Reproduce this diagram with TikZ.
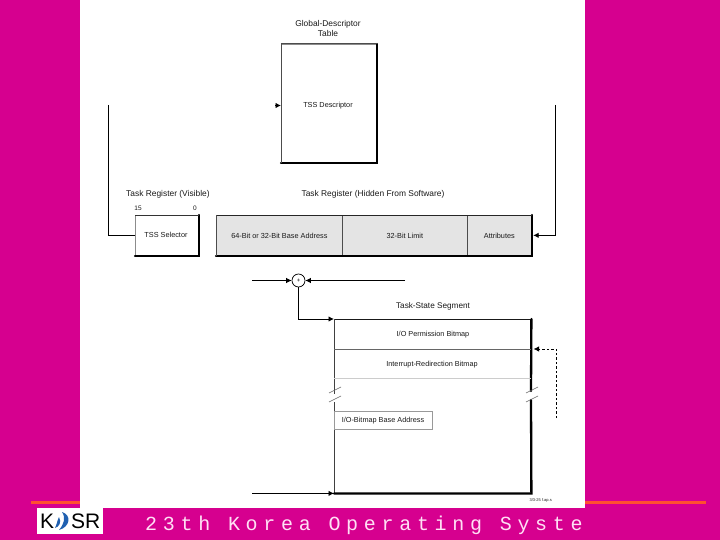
\documentclass[tikz,border=0pt]{standalone}
\usepackage{fontspec}
\setmainfont{Liberation Sans}
\newfontfamily\footfont[LetterSpace=28.5]{Liberation Mono}
\usetikzlibrary{arrows.meta}
\definecolor{bgpink}{HTML}{D6008F}
\definecolor{linered}{HTML}{FF5030}
\definecolor{footpink}{HTML}{FFE0F5}
\definecolor{cellgray}{HTML}{E4E4E4}
\definecolor{logoblue}{HTML}{2060B0}
\tikzset{
  x=1pt,y=-1pt,
  lbl/.style={font=\fontsize{8.4}{10}\selectfont,inner sep=0pt,align=center,text=black!90},
  inlbl/.style={font=\fontsize{7.3}{9}\selectfont,inner sep=0pt,align=center,text=black!90},
  wire/.style={line width=0.9pt,-{Latex[length=5.5pt,width=5.5pt]}},
  plainwire/.style={line width=0.9pt},
  thinbox/.style={draw=black!45,line width=0.7pt},
  shadowline/.style={line width=2.3pt,line cap=round},
}
\begin{document}
\begin{tikzpicture}
\useasboundingbox (0,0) rectangle (720,540);
\fill[bgpink] (0,0) rectangle (720,540);
\fill[linered] (31,500.5) rectangle (706,504);
\fill[white] (80,0) rectangle (585,508);
\fill[white] (37,508) rectangle (103,534);

% GDT
\node[lbl] (gdtlabel) at (328,28.5) {Global-Descriptor\\Table};
\node[thinbox,minimum width=95pt,minimum height=118pt,inner sep=0pt,anchor=north west] (gdt) at (281,44) {};
\draw[shadowline] (gdt.north east) -- (gdt.south east) -- (gdt.south west);
\draw[line width=1pt,black!70] (gdt.north west) -- (gdt.north east);
\draw[line width=0.9pt,black!70] (gdt.north west) -- (gdt.south west);
\node[inlbl] (tssd) at (328,105.5) {TSS Descriptor};
\coordinate (gdtin) at (gdt.west |- tssd);
\coordinate (gdtstart) at (275,105.5);
\draw[wire] (gdtstart) -- (gdtin);

% Registers
\node[lbl,anchor=west] (vislabel) at (126,194) {Task Register (Visible)};
\node[lbl] (hidlabel) at (373,194) {Task Register (Hidden From Software)};
\node[inlbl,font=\fontsize{6.5}{7}\selectfont] (b15) at (138,208) {15};
\node[inlbl,font=\fontsize{6.5}{7}\selectfont] (b0) at (195,208) {0};

\node[thinbox,fill=white,minimum width=63pt,minimum height=40pt,inner sep=0pt,anchor=north west] (sel) at (135,215) {};
\draw[shadowline] (sel.north east) -- (sel.south east) -- (sel.south west);
\draw[line width=0.9pt,black!80] (sel.north west) -- (sel.north east);
\node[inlbl] (seltext) at (166,234.5) {TSS Selector};

\node[draw=black!70,fill=cellgray,line width=0.7pt,minimum width=126pt,minimum height=40pt,inner sep=0pt,anchor=north west] (base) at (216,215) {};
\node[draw=black!70,fill=cellgray,line width=0.7pt,minimum width=125pt,minimum height=40pt,inner sep=0pt,anchor=north west] (limit) at (342,215) {};
\node[draw=black!70,fill=cellgray,line width=0.7pt,minimum width=64pt,minimum height=40pt,inner sep=0pt,anchor=north west] (attr) at (467,215) {};
\draw[shadowline] (attr.north east) -- (attr.south east) -- (base.south west);
\draw[line width=0.9pt,black!85] (base.north west) -- (attr.north east);
\draw[line width=0.9pt,black!70] (base.north west) -- (base.south west);
\node[inlbl] at ([yshift=-0.5pt]base.center) {64-Bit or 32-Bit Base Address};
\node[inlbl] at ([yshift=-0.5pt]limit.center) {32-Bit Limit};
\node[inlbl] at ([yshift=-0.5pt]attr.center) {Attributes};

\coordinate (ltop) at (108.5,105);
\coordinate (rtop) at (555.5,105);
\draw[plainwire] (ltop) -- (ltop |- sel.west) -- (sel.west);
\draw[wire] (rtop) -- (rtop |- attr.east) -- ([xshift=1.5pt]attr.east);

% Adder
\node[draw,circle,line width=0.7pt,minimum size=13pt,inner sep=0pt,font=\fontsize{6}{6}\selectfont] (add) at (298.5,280.5) {+};
\coordinate (addl) at (252,280.5);
\coordinate (addr) at (405,280.5);
\draw[wire] (addl) -- (add.west);
\draw[wire] (addr) -- (add.east);

% TSS
\node[lbl,font=\fontsize{8.2}{10}\selectfont] (tsslabel) at (433,306.5) {Task-State Segment};
\node[inner sep=0pt,minimum width=197pt,minimum height=174pt,anchor=north west] (tss) at (334,319) {};
\draw[line width=1pt,black!90] (tss.north west) -- (tss.north east);
\draw[line width=0.9pt,black!75] (tss.north west) -- (334,394);
\draw[line width=0.9pt,black!75] (334,402) -- (tss.south west);
\draw[shadowline] (tss.north east) -- (531,391);
\draw[shadowline] (531,400) -- (tss.south east) -- (tss.south west);
\coordinate (mid1) at (334,349);
\coordinate (mid1r) at (531,349);
\coordinate (mid2) at (334,378);
\coordinate (mid2r) at (531,378);
\draw[line width=0.7pt,black!60] (mid1) -- (mid1r);
\draw[line width=0.7pt,black!20] (mid2) -- (mid2r);
\node[inlbl] at (433,334.5) {I/O Permission Bitmap};
\node[inlbl] at (432,364.5) {Interrupt-Redirection Bitmap};
\node[draw=black!40,line width=0.6pt,minimum width=98pt,minimum height=18pt,inner sep=0pt,anchor=north west] (iob) at (334,411) {};
\node[inlbl] at (383,421) {I/O-Bitmap Base Address};

% break marks
\draw[line width=0.6pt,black!60] (329,393) -- (341,387);
\draw[line width=0.6pt,black!60] (329,402) -- (341,396);
\draw[line width=0.6pt,black!60] (526,393) -- (538,387);
\draw[line width=0.6pt,black!60] (526,402) -- (538,396);

\draw[wire] (add.south) -- (add.south |- tss.north west) -- (tss.north west);
\coordinate (tssb) at (252,493);
\draw[wire] (tssb |- tss.south west) -- (tss.south west);
\coordinate (dashs) at (556.5,418);
\draw[wire,dash pattern=on 2.5pt off 2pt] (dashs) -- (dashs |- mid1r) -- ([xshift=2.5pt]mid1r);

\node[lbl,font=\fontsize{4}{4}\selectfont,anchor=east] (figno) at (552,500.5) {3/3-25 f.ap.s};

% footer
\node[anchor=west,inner sep=0pt,text=footpink,font=\footfont\fontsize{20}{22}\selectfont] (foot) at (145,525) {23th Korea Operating Syste};

% logo
\node[anchor=west,inner sep=0pt,font=\fontsize{21}{22}\selectfont] (logok) at (40,521) {K};
\node[anchor=west,inner sep=0pt,font=\fontsize{21}{22}\selectfont] (logosr) at (71,521) {SR};
\fill[logoblue] (62,512) .. controls (72,515) and (70,527) .. (59,530) .. controls (64,524) and (66,518) .. (62,512);
\fill[logoblue] (59,517) .. controls (62,522) and (59,527) .. (55,528) .. controls (57,524) and (57,521) .. (59,517);
\end{tikzpicture}
\end{document}
